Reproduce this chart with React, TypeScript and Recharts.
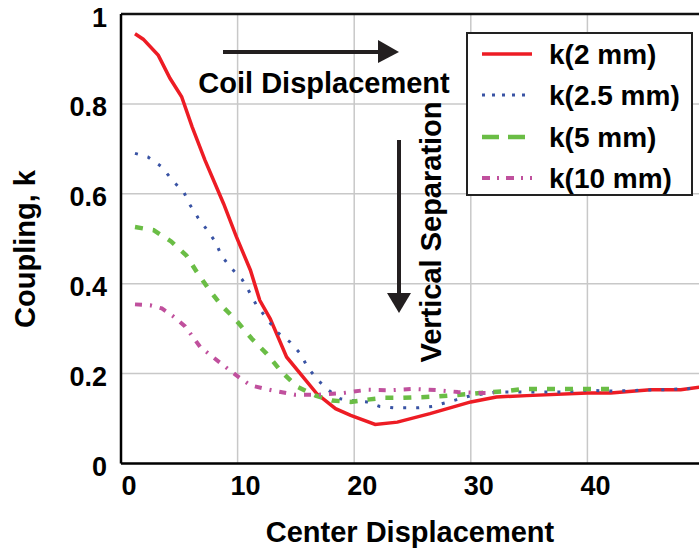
import React from 'react';
import { LineChart, Line, XAxis, YAxis, CartesianGrid, Customized } from 'recharts';

const FONT = '"Liberation Sans", Arial, Helvetica, sans-serif';

// Center displacement (x) and coupling k for each vertical separation
const x2mm = [1.2, 1.9, 3.2, 4.2, 5.2, 6.1, 7.2, 8.8, 9.9, 11.1, 11.9, 12.8, 14.2, 16.8, 18.4, 19.7, 21.8, 23.7, 26.5, 30, 32.2, 34.8, 40, 42, 45.4, 48, 50];
const k2mm = [0.956, 0.944, 0.908, 0.857, 0.816, 0.749, 0.675, 0.578, 0.504, 0.43, 0.363, 0.322, 0.237, 0.155, 0.122, 0.107, 0.087, 0.092, 0.111, 0.137, 0.148, 0.151, 0.157, 0.157, 0.164, 0.164, 0.171];

const x25mm = [1.2, 2.3, 3.5, 4.4, 5.4, 5.9, 6.6, 7.4, 8.1, 8.6, 9.4, 10.4, 11, 11.6, 12.4, 13.4, 14.5, 15.4, 16, 16.9, 17.8, 18.8, 19.9, 21.1, 22.2, 23.4, 25.5, 26.7, 28.8, 30, 32.2, 35.5, 37.8, 40, 42.2, 44.5, 46.8, 48, 50];
const k25mm = [0.69, 0.682, 0.66, 0.63, 0.603, 0.576, 0.547, 0.519, 0.493, 0.463, 0.436, 0.409, 0.382, 0.353, 0.326, 0.292, 0.27, 0.244, 0.214, 0.185, 0.163, 0.144, 0.14, 0.137, 0.127, 0.124, 0.124, 0.127, 0.142, 0.151, 0.159, 0.159, 0.159, 0.163, 0.161, 0.163, 0.164, 0.166, 0.168];

const x5mm = [1.2, 2.8, 4.3, 5.6, 6.5, 7.5, 8.6, 9.8, 11.2, 12.5, 13.8, 15.1, 16.7, 18.1, 19.7, 21.1, 22.5, 24.1, 27.1, 30, 31.7, 33.1, 34.5, 42];
const k5mm = [0.526, 0.519, 0.494, 0.463, 0.426, 0.389, 0.352, 0.321, 0.278, 0.244, 0.203, 0.171, 0.151, 0.14, 0.137, 0.142, 0.146, 0.146, 0.149, 0.155, 0.159, 0.161, 0.166, 0.166];

const x10mm = [1.2, 2.5, 3.5, 4.5, 5.5, 6.8, 8.8, 9.9, 11.1, 12.9, 14.9, 16.9, 19.1, 21.1, 23.1, 25.1, 27.2, 28.9, 30.8, 32];
const k10mm = [0.354, 0.352, 0.345, 0.327, 0.305, 0.259, 0.218, 0.196, 0.174, 0.163, 0.153, 0.153, 0.157, 0.164, 0.163, 0.166, 0.163, 0.159, 0.157, 0.157];

const seriesNames = ['k(2 mm)', 'k(2.5 mm)', 'k(5 mm)', 'k(10 mm)'];
const xTicks = [0, 10, 20, 30, 40];
const yTicks = [0, 0.2, 0.4, 0.6, 0.8, 1];
const yTickLabels = ['0', '0.2', '0.4', '0.6', '0.8', '1'];

const xLabel = 'Center Displacement';
const yLabel = 'Coupling, k';
const hAnnot = 'Coil Displacement';
const vAnnot = 'Vertical Separation';

const zip = (xs: number[], ks: number[]) => xs.map((x, i) => ({ x, k: ks[i] }));

const seriesData = [zip(x2mm, k2mm), zip(x25mm, k25mm), zip(x5mm, k5mm), zip(x10mm, k10mm)];

const seriesStyle = [
  { color: '#ed1c24', width: 3.5, dash: undefined as string | undefined, legendDash: undefined as string | undefined },
  { color: '#3953a4', width: 3, dash: '3 10', legendDash: '3 7' },
  { color: '#6abd45', width: 4.5, dash: '8 10', legendDash: '17 9' },
  { color: '#c0509d', width: 4, dash: '7 8 2 8', legendDash: '8 7 2 7' },
];

const XTick = (props: any) => {
  const { x, y, payload } = props;
  return (
    <text x={x + 8} y={y} dy="0.71em" textAnchor="middle" fontSize={27} fontWeight="bold" fontFamily={FONT} fill="#000">
      {payload.value}
    </text>
  );
};

const YTick = (props: any) => {
  const { x, y, payload } = props;
  const idx = yTicks.indexOf(payload.value);
  return (
    <text x={x} y={y + 3} dy="0.355em" textAnchor="end" fontSize={27} fontWeight="bold" fontFamily={FONT} fill="#000">
      {idx >= 0 ? yTickLabels[idx] : payload.value}
    </text>
  );
};

const Overlay = () => {
  const legendX = 467;
  const legendY = 33;
  const rowYs = [54, 95, 137, 178];
  return (
    <g>
      {/* top border */}
      <line x1={121} y1={14} x2={704} y2={14} stroke="#111" strokeWidth={2.5} />
      {/* axis titles */}
      <text x={410} y={542} textAnchor="middle" fontSize={29} fontWeight="bold" fontFamily={FONT} fill="#000">{xLabel}</text>
      <text x={35} y={249} transform="rotate(-90, 35, 249)" textAnchor="middle" fontSize={29} fontWeight="bold" fontFamily={FONT} fill="#000">{yLabel}</text>
      {/* horizontal arrow */}
      <line x1={223} y1={52} x2={382} y2={52} stroke="#231f20" strokeWidth={4} />
      <polygon points="378,40 399,52 378,63" fill="#231f20" />
      <text x={324} y={93} textAnchor="middle" fontSize={29} fontWeight="bold" fontFamily={FONT} fill="#000">{hAnnot}</text>
      {/* vertical arrow */}
      <line x1={399} y1={140} x2={399} y2={296} stroke="#231f20" strokeWidth={4} />
      <polygon points="387,293 411,293 399,313" fill="#231f20" />
      <text x={441} y={232} transform="rotate(-90, 441, 232)" textAnchor="middle" fontSize={29} fontWeight="bold" fontFamily={FONT} fill="#000">{vAnnot}</text>
      {/* legend */}
      <rect x={legendX} y={legendY} width={225} height={162} fill="#fff" stroke="#222" strokeWidth={2} />
      {seriesNames.map((name, i) => (
        <g key={name}>
          <line x1={482} y1={rowYs[i]} x2={532} y2={rowYs[i]} stroke={seriesStyle[i].color} strokeWidth={seriesStyle[i].width} strokeDasharray={seriesStyle[i].legendDash} />
          <text x={549} y={rowYs[i] + 10} fontSize={28} fontWeight="bold" fontFamily={FONT} fill="#000">{name}</text>
        </g>
      ))}
    </g>
  );
};

export default function App() {
  return (
    <div style={{ position: 'absolute', left: 0, top: 0, width: 699, height: 548, overflow: 'hidden', background: '#fff' }}>
      <LineChart width={705} height={548} margin={{ top: 14, right: 1, bottom: 0, left: 0 }}>
        <CartesianGrid stroke="#c8c8c8" strokeWidth={1.5} />
        <XAxis
          dataKey="x"
          type="number"
          domain={[0, 50]}
          ticks={xTicks}
          allowDuplicatedCategory={false}
          height={84.5}
          tickLine={false}
          tickSize={6}
          tickMargin={6}
          tick={<XTick />}
          axisLine={{ stroke: '#000', strokeWidth: 2.5 }}
        />
        <YAxis
          dataKey="k"
          type="number"
          domain={[0, 1]}
          ticks={yTicks}
          width={121}
          tickLine={false}
          tickSize={6}
          tickMargin={8}
          tick={<YTick />}
          axisLine={{ stroke: '#000', strokeWidth: 2.5 }}
        />
        {seriesData.map((d, i) => (
          <Line
            key={seriesNames[i]}
            data={d}
            dataKey="k"
            name={seriesNames[i]}
            type="linear"
            stroke={seriesStyle[i].color}
            strokeWidth={seriesStyle[i].width}
            strokeDasharray={seriesStyle[i].dash}
            dot={false}
            activeDot={false}
            isAnimationActive={false}
          />
        ))}
        <Customized component={Overlay} />
      </LineChart>
    </div>
  );
}
